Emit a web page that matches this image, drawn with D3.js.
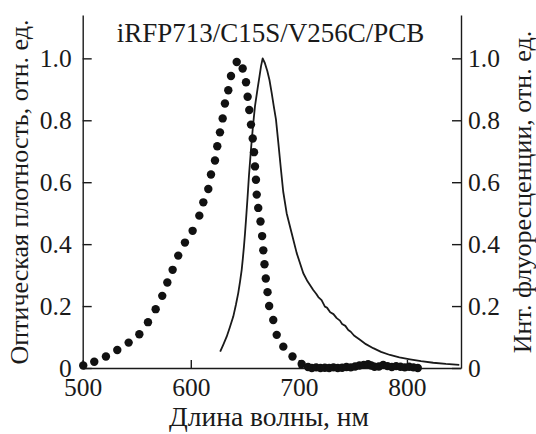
<!DOCTYPE html>
<html>
<head>
<meta charset="utf-8">
<script src="https://cdn.jsdelivr.net/npm/d3@7"></script>
<style>
  body { margin: 0; background: #fff; }
  svg text { font-family: "Liberation Serif", "Times New Roman", serif; fill: #1a1a1a; }
</style>
</head>
<body>
<svg id="chart" width="536" height="434"></svg>
<script>
// absorption (dots, left axis)
const absNm  = [500.5, 510.7, 521.5, 532, 542.5, 552.4, 560.4, 567.5, 573.6, 578.3, 583.2, 588.4, 594.6, 601.7,
  607.9, 611.6, 616.2, 618.7, 622.4, 624.5, 627, 629.5, 631.6, 634.7, 637.2, 642.5,
  648, 651.1, 652.6, 654.1, 655.7, 657.3, 658.5, 659.4, 660.3, 661, 662.4, 664.5, 666, 667.1, 668.2, 669.4,
  671, 672.5, 676.3, 679.5, 685.6, 694.1, 702.6,
  708.5, 712, 716, 720, 724, 728, 732, 736, 740, 744, 748, 752, 756, 760, 764, 767, 770, 774, 778, 782,
  786, 790, 794, 798, 802, 806, 810]
const absVal = [0.008, 0.02, 0.037, 0.058, 0.082, 0.109, 0.148, 0.19, 0.233, 0.276, 0.317, 0.363, 0.405, 0.443,
  0.492, 0.535, 0.578, 0.625, 0.67, 0.716, 0.761, 0.806, 0.854, 0.897, 0.943, 0.988,
  0.967, 0.923, 0.876, 0.833, 0.786, 0.741, 0.697, 0.651, 0.608, 0.56, 0.517, 0.473, 0.426, 0.38, 0.335, 0.289,
  0.245, 0.2, 0.155, 0.107, 0.069, 0.037, 0.013,
  0.003, 0, 0.002, 0, 0.001, 0, 0.002, 0, 0.001, 0.003, 0.002, 0.005, 0.008, 0.01, 0.012, 0.008, 0.004, 0.005,
  0.01, 0.006, 0.003, 0.006, 0.004, 0.002, 0.004, 0.002, 0]

// fluorescence (line, right axis)
const flNm  = [627.2, 630, 633.2, 636, 639.3, 641.8, 643.9, 645.6, 647.1, 648.2, 649.2, 650.2, 651.1, 652.5,
  653.8, 655.7, 657.5, 659.4, 661.9, 663.5, 665, 666.5, 668.5, 670.8, 672.8, 674.8, 676.8, 678.8, 681,
  683.3, 685.5, 688.7, 690.2, 693.3, 698, 704.1, 708, 713.3, 716, 718, 721, 724.1, 726, 729, 732, 735,
  738, 740, 743, 745.7, 748, 751, 756.5, 762, 768.8, 776, 784.3, 793, 802.8, 813, 824.3, 836, 848.4]
const flVal = [0.053, 0.075, 0.101, 0.13, 0.166, 0.205, 0.242, 0.28, 0.317, 0.355, 0.393, 0.436, 0.479, 0.55,
  0.62, 0.706, 0.78, 0.846, 0.905, 0.94, 0.975, 1.0, 0.985, 0.959, 0.93, 0.889, 0.845, 0.803, 0.727,
  0.645, 0.57, 0.5, 0.479, 0.436, 0.371, 0.306, 0.28, 0.252, 0.24, 0.229, 0.219, 0.198, 0.195, 0.18, 0.174, 0.161,
  0.153, 0.142, 0.136, 0.123, 0.117, 0.105, 0.091, 0.077, 0.064, 0.052, 0.042, 0.034, 0.028, 0.022, 0.017, 0.013, 0.01]

const xTicks = [500, 600, 700, 800]
const yTicks = [0, 0.2, 0.4, 0.6, 0.8, 1.0]
const title = 'iRFP713/C15S/V256C/PCB'
const xTitle = 'Длина волны, нм'
const yLeftTitle = 'Оптическая плотность, отн. ед.'
const yRightTitle = 'Инт. флуоресценции, отн. ед.'

const svg = d3.select('#chart')
const plotLeft = 82.7, plotRight = 461, plotTop = 15, plotBottom = 368

const x = d3.scaleLinear().domain([500, 850]).range([plotLeft, plotRight])
const y = d3.scaleLinear().domain([0, 1.14]).range([plotBottom, plotTop])
const fmt = d => d === 0 ? '0' : d3.format('.1f')(d)

function styleAxis(g) {
	g.selectAll('path, line').attr('stroke', '#1a1a1a').attr('stroke-width', 1.4)
	g.selectAll('text').attr('font-size', 25.5).attr('font-family', '"Liberation Serif", serif').attr('fill', '#1a1a1a')
}

svg.append('g')
	.attr('transform', `translate(0,${plotBottom})`)
	.call(d3.axisBottom(x).tickValues(xTicks).tickSizeInner(-8).tickSizeOuter(0).tickPadding(10))
	.call(styleAxis)

svg.append('g')
	.attr('transform', `translate(${plotLeft},0)`)
	.call(d3.axisLeft(y).tickValues(yTicks).tickFormat(fmt).tickSizeInner(-9).tickSizeOuter(0).tickPadding(11))
	.call(styleAxis)

svg.append('g')
	.attr('transform', `translate(${plotRight},0)`)
	.call(d3.axisRight(y).tickValues(yTicks).tickFormat(fmt).tickSizeInner(-9).tickSizeOuter(0).tickPadding(7))
	.call(styleAxis)

// fluorescence line
const line = d3.line().x(d => x(d[0])).y(d => y(d[1]))
svg.append('path')
	.datum(d3.zip(flNm, flVal))
	.attr('fill', 'none')
	.attr('stroke', '#1a1a1a')
	.attr('stroke-width', 1.8)
	.attr('stroke-linejoin', 'round')
	.attr('d', line)

// absorption dots
svg.append('g').selectAll('circle')
	.data(d3.zip(absNm, absVal))
	.join('circle')
		.attr('cx', d => x(d[0]))
		.attr('cy', d => y(d[1]))
		.attr('r', 4.2)
		.attr('fill', '#111')

svg.append('text')
	.attr('x', 270.5).attr('y', 42)
	.attr('text-anchor', 'middle')
	.attr('font-size', 27)
	.text(title)

svg.append('text')
	.attr('x', 269).attr('y', 426)
	.attr('text-anchor', 'middle')
	.attr('font-size', 27.5)
	.text(xTitle)

svg.append('text')
	.attr('transform', 'translate(28,192) rotate(-90)')
	.attr('text-anchor', 'middle')
	.attr('font-size', 26)
	.text(yLeftTitle)

svg.append('text')
	.attr('transform', 'translate(531,192) rotate(-90)')
	.attr('text-anchor', 'middle')
	.attr('font-size', 26)
	.text(yRightTitle)
</script>
</body>
</html>
